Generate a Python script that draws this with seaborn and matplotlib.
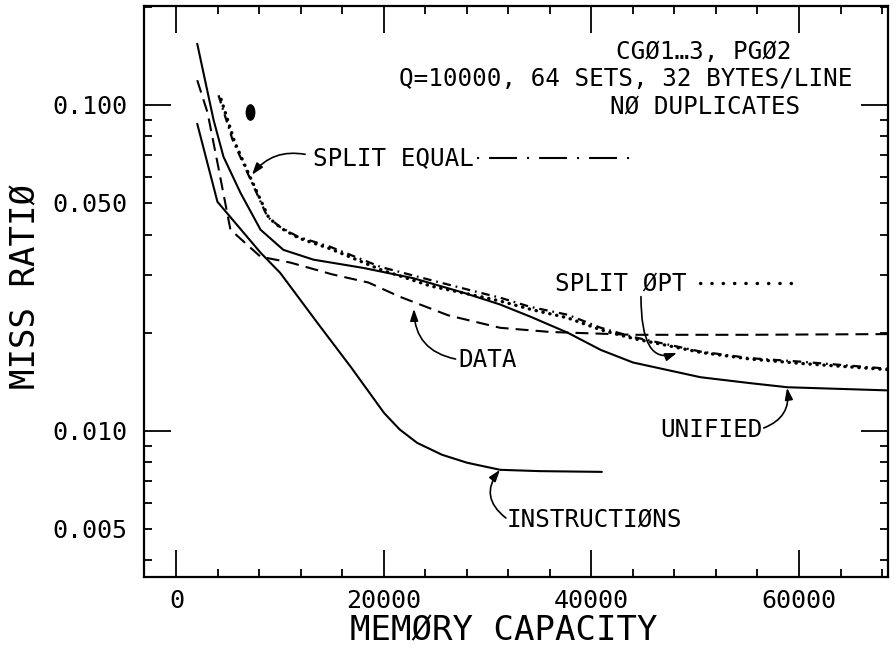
import numpy as np
import pandas as pd
import seaborn as sns
import matplotlib.pyplot as plt
from matplotlib.path import Path
from matplotlib.transforms import Affine2D
from matplotlib.ticker import FixedLocator, NullFormatter

# Miss ratio vs memory capacity
unified_x = [2000, 3570, 4530, 6170, 8100, 10300, 13200, 18000, 22800, 27700,
             31200, 34100, 37700, 40900, 44000, 50500, 55300, 58900, 68600]
unified_y = [0.154, 0.090, 0.0693, 0.0537, 0.0414, 0.0359, 0.0335, 0.0316, 0.0294, 0.0265,
             0.0244, 0.0224, 0.0200, 0.0177, 0.0162, 0.0146, 0.0140, 0.0136, 0.0133]

instr_x = [2000, 3950, 8100, 10000, 13600, 16800, 20000, 21500, 23200, 25600,
           28000, 31200, 35000, 41000]
instr_y = [0.0875, 0.0504, 0.0352, 0.0305, 0.0214, 0.0157, 0.01135, 0.0101, 0.00918, 0.00844,
           0.00798, 0.00759, 0.00752, 0.00748]

data_x = [2000, 3000, 3950, 5200, 8100, 11000, 15000, 18500, 21500, 26200,
          31200, 36000, 44000, 55000, 68600]
data_y = [0.119, 0.0945, 0.0664, 0.0414, 0.0342, 0.0328, 0.0302, 0.0285, 0.0258, 0.0226,
          0.0207, 0.0201, 0.0197, 0.0197, 0.0198]

split_eq_x = [4050, 5400, 6850, 8770, 10000, 11700, 14800, 19700, 24500, 29300,
              31200, 34100, 37700, 40900, 44000, 50500, 55300, 60100, 68600]
split_eq_y = [0.107, 0.0782, 0.0618, 0.0453, 0.0422, 0.0394, 0.0367, 0.0318, 0.0290, 0.0265,
              0.0256, 0.0240, 0.0227, 0.0207, 0.0194, 0.0175, 0.0167, 0.0163, 0.0155]

split_opt_x = [4300, 5600, 7000, 8900, 10100, 11800, 14800, 19700, 24500, 29300,
               31200, 34100, 37700, 40900, 44000, 50500, 55300, 60100, 68600]
split_opt_y = [0.104, 0.0770, 0.0610, 0.0450, 0.0418, 0.0390, 0.0362, 0.0312, 0.0278, 0.0258,
               0.0250, 0.0236, 0.0222, 0.0204, 0.0192, 0.0174, 0.0166, 0.0161, 0.0154]

x_major = [0, 20000, 40000, 60000]
x_labels = ['0', '20000', '40000', '60000']
y_major = [0.005, 0.01, 0.05, 0.1]
y_labels = ['0.005', '0.010', '0.050', '0.100']

sns.set_style("ticks")
plt.rcParams['font.family'] = ['DejaVu Sans Mono', 'DejaVu Sans']
plt.rcParams.update({'text.color': 'black', 'axes.labelcolor': 'black',
                     'xtick.color': 'black', 'ytick.color': 'black',
                     'axes.edgecolor': 'black'})

fig = plt.figure(figsize=(8.95, 6.48), dpi=100)
ax = fig.add_axes([0.1609, 0.1096, 0.8313, 0.8811])

curves = [
    (unified_x, unified_y, '-', 1.5, 'butt'),
    (instr_x, instr_y, '-', 1.5, 'butt'),
    (data_x, data_y, (0, (6.2, 3.4)), 1.5, 'butt'),
    (split_eq_x, split_eq_y, (0, (3.8, 2.2, 0.8, 2.2)), 1.6, 'butt'),
    (split_opt_x, split_opt_y, (0, (0.1, 2.0)), 2.4, 'round'),
]
for xs, ys, ls, lw, cap in curves:
    df = pd.DataFrame({'capacity': xs, 'miss': ys})
    sns.lineplot(data=df, x='capacity', y='miss', color='black', linestyle=ls,
                 linewidth=lw, dash_capstyle=cap, errorbar=None, ax=ax)

ax.set_yscale('log')
ax.set_xlim(-3130, 68580)
ax.set_ylim(0.00356, 0.201)

ax.set_xticks(x_major, labels=x_labels)
ax.xaxis.set_minor_locator(FixedLocator(np.arange(0, 68001, 4000)))
ax.yaxis.set_major_locator(FixedLocator(y_major))
ax.set_yticklabels(y_labels)
minor_y = [m * 10.0 ** e for e in (-3, -2, -1) for m in range(1, 10)]
ax.yaxis.set_minor_locator(FixedLocator(minor_y))
ax.yaxis.set_minor_formatter(NullFormatter())

ax.tick_params(which='major', direction='in', length=19.5, width=1.3,
               top=True, right=True, labelsize=18, colors='black')
ax.tick_params(which='minor', direction='in', length=6, width=1.3, top=True, right=True)
ax.tick_params(axis='x', which='major', pad=9)
ax.tick_params(axis='y', which='major', pad=12)
# labelled 0.005 / 0.050 ticks are short in the original
for t, loc in zip(ax.yaxis.get_major_ticks(), ax.yaxis.get_majorticklocs()):
    if loc in (0.005, 0.05):
        t.tick1line.set_markersize(6)
        t.tick2line.set_markersize(6)

for s in ax.spines.values():
    s.set_linewidth(1.6)
    s.set_color('black')

ax.set_xlabel('MEMØRY CAPACITY', fontsize=24.5, va='center')
ax.xaxis.set_label_coords(0.484, -0.094)
ax.set_ylabel('MISS RATIØ', fontsize=24.5, va='center')
ax.yaxis.set_label_coords(-0.159, 0.508)

fs = 17.5
ax.text(59300, 0.1455, 'CGØ1…3, PGØ2', fontsize=fs, ha='right', va='center')
ax.text(65100, 0.120, 'Q=10000, 64 SETS, 32 BYTES/LINE', fontsize=fs, ha='right', va='center')
ax.text(60100, 0.0986, 'NØ DUPLICATES', fontsize=fs, ha='right', va='center')

# curve labels with key samples
ax.text(13150, 0.0688, 'SPLIT EQUAL', fontsize=fs, ha='left', va='center')
ax.plot([28960, 44000], [0.0688, 0.0688], color='black', lw=1.5,
        linestyle=(0, (1, 4.8, 13.4, 4.8)))
ax.text(36480, 0.0284, 'SPLIT ØPT', fontsize=fs, ha='left', va='center')
ax.plot([50500, 60000], [0.0284, 0.0284], color='black', lw=2.4,
        linestyle=(0, (0.1, 3.3)), dash_capstyle='round')
ax.text(27130, 0.01652, 'DATA', fontsize=fs, ha='left', va='center')
ax.text(56500, 0.01007, 'UNIFIED', fontsize=fs, ha='right', va='center')
ax.text(31850, 0.00533, 'INSTRUCTIØNS', fontsize=fs, ha='left', va='center')

arrow_kw = dict(arrowstyle='-|>,head_length=0.5,head_width=0.17', color='black',
                lw=1.2, shrinkA=0, shrinkB=0, mutation_scale=14)
arrows = [
    ((12400, 0.0705), (7280, 0.0610), 'arc3,rad=0.3'),
    ((44770, 0.0258), (48240, 0.01734), 'angle3,angleA=90,angleB=20'),
    ((26900, 0.01660), (22890, 0.02366), 'arc3,rad=-0.4'),
    ((56600, 0.01020), (58850, 0.01355), 'arc3,rad=0.4'),
    ((31750, 0.00540), (31180, 0.00759), 'arc3,rad=-0.5'),
]
for start, tip, conn in arrows:
    ax.annotate('', xy=tip, xytext=start,
                arrowprops=dict(connectionstyle=conn, **arrow_kw))

blob = Path.unit_circle().transformed(Affine2D().scale(0.55, 1.0))
ax.plot([7080], [0.0952], marker=blob, ms=11, color='black', ls='none')

fig.savefig('out.png', dpi=100)
